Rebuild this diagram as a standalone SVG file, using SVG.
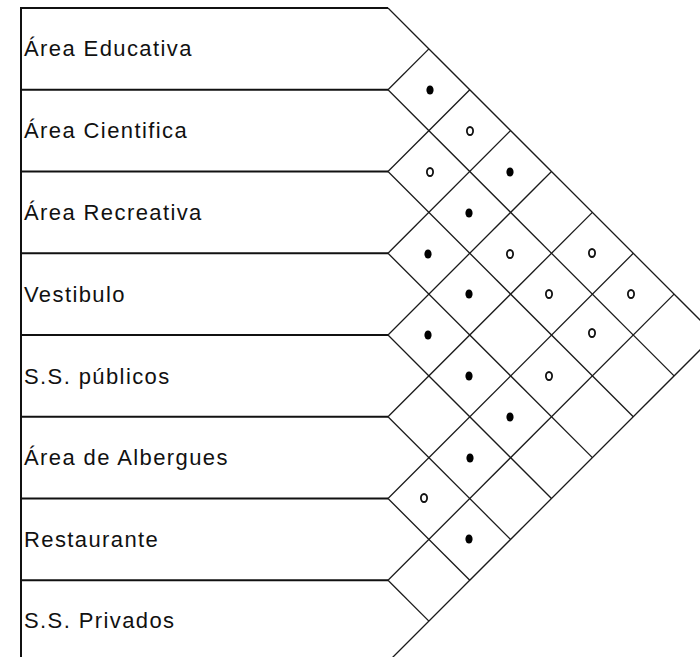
<svg xmlns="http://www.w3.org/2000/svg" width="700" height="657" viewBox="0 0 700 657">
<style>
.bg{fill:#ffffff}
.hl{stroke:#111;stroke-width:2;fill:none}
.dg{stroke:#1a1a1a;stroke-width:1.3;fill:none}
.lbl{font-family:"Liberation Sans",Arial,sans-serif;font-size:22px;letter-spacing:1.4px;fill:#111}
.dot{fill:#000}
.ring{fill:none;stroke:#111;stroke-width:1.8}
</style>
<defs>
<ellipse id="d" class="dot" cx="0" cy="0" rx="3.6" ry="4.6"/>
<ellipse id="o" class="ring" cx="0" cy="0" rx="3.1" ry="4"/>
</defs>
<rect class="bg" x="0" y="0" width="700" height="657"/>
<g id="frame">
<line class="hl" x1="21" y1="7" x2="21" y2="657"/>
</g>
<g id="row1"><line class="hl" x1="20" y1="8" x2="388" y2="8"/><text class="lbl" x="24" y="56">Área Educativa</text></g>
<g id="row2"><line class="hl" x1="20" y1="89.75" x2="388" y2="89.75"/><text class="lbl" x="24" y="138">Área Cientifica</text></g>
<g id="row3"><line class="hl" x1="20" y1="171.5" x2="388" y2="171.5"/><text class="lbl" x="24" y="220">Área Recreativa</text></g>
<g id="row4"><line class="hl" x1="20" y1="253.25" x2="388" y2="253.25"/><text class="lbl" x="24" y="302">Vestibulo</text></g>
<g id="row5"><line class="hl" x1="20" y1="335" x2="388" y2="335"/><text class="lbl" x="24" y="384">S.S. públicos</text></g>
<g id="row6"><line class="hl" x1="20" y1="416.75" x2="388" y2="416.75"/><text class="lbl" x="24" y="465">Área de Albergues</text></g>
<g id="row7"><line class="hl" x1="20" y1="498.5" x2="388" y2="498.5"/><text class="lbl" x="24" y="547">Restaurante</text></g>
<g id="row8"><line class="hl" x1="20" y1="580.25" x2="388" y2="580.25"/><text class="lbl" x="24" y="628">S.S. Privados</text></g>
<g id="connectors">
<line class="dg" x1="388" y1="8" x2="715" y2="335"/>
<line class="dg" x1="388" y1="89.75" x2="674.1" y2="375.9"/>
<line class="dg" x1="388" y1="171.5" x2="633.3" y2="416.8"/>
<line class="dg" x1="388" y1="253.25" x2="592.4" y2="457.6"/>
<line class="dg" x1="388" y1="335" x2="551.5" y2="498.5"/>
<line class="dg" x1="388" y1="416.75" x2="510.6" y2="539.4"/>
<line class="dg" x1="388" y1="498.5" x2="469.8" y2="580.3"/>
<line class="dg" x1="388" y1="580.25" x2="428.9" y2="621.1"/>
<line class="dg" x1="388" y1="89.75" x2="428.9" y2="48.9"/>
<line class="dg" x1="388" y1="171.5" x2="469.8" y2="89.8"/>
<line class="dg" x1="388" y1="253.25" x2="510.6" y2="130.6"/>
<line class="dg" x1="388" y1="335" x2="551.5" y2="171.5"/>
<line class="dg" x1="388" y1="416.75" x2="592.4" y2="212.4"/>
<line class="dg" x1="388" y1="498.5" x2="633.3" y2="253.3"/>
<line class="dg" x1="388" y1="580.25" x2="674.1" y2="294.1"/>
<line class="dg" x1="388" y1="662" x2="715" y2="335"/>
</g>
<g id="marks">
<use href="#d" x="430" y="90"/>
<use href="#o" x="470" y="131"/>
<use href="#o" x="430" y="172"/>
<use href="#d" x="510" y="172"/>
<use href="#d" x="469" y="213"/>
<use href="#d" x="428" y="254"/>
<use href="#o" x="510" y="254"/>
<use href="#o" x="592" y="253"/>
<use href="#d" x="469" y="294"/>
<use href="#o" x="549" y="294"/>
<use href="#o" x="631" y="294"/>
<use href="#d" x="428" y="335"/>
<use href="#o" x="592" y="333"/>
<use href="#d" x="469" y="376"/>
<use href="#o" x="549" y="376"/>
<use href="#d" x="510" y="417"/>
<use href="#d" x="470" y="458"/>
<use href="#o" x="424" y="498"/>
<use href="#d" x="469" y="539"/>
</g>
</svg>
